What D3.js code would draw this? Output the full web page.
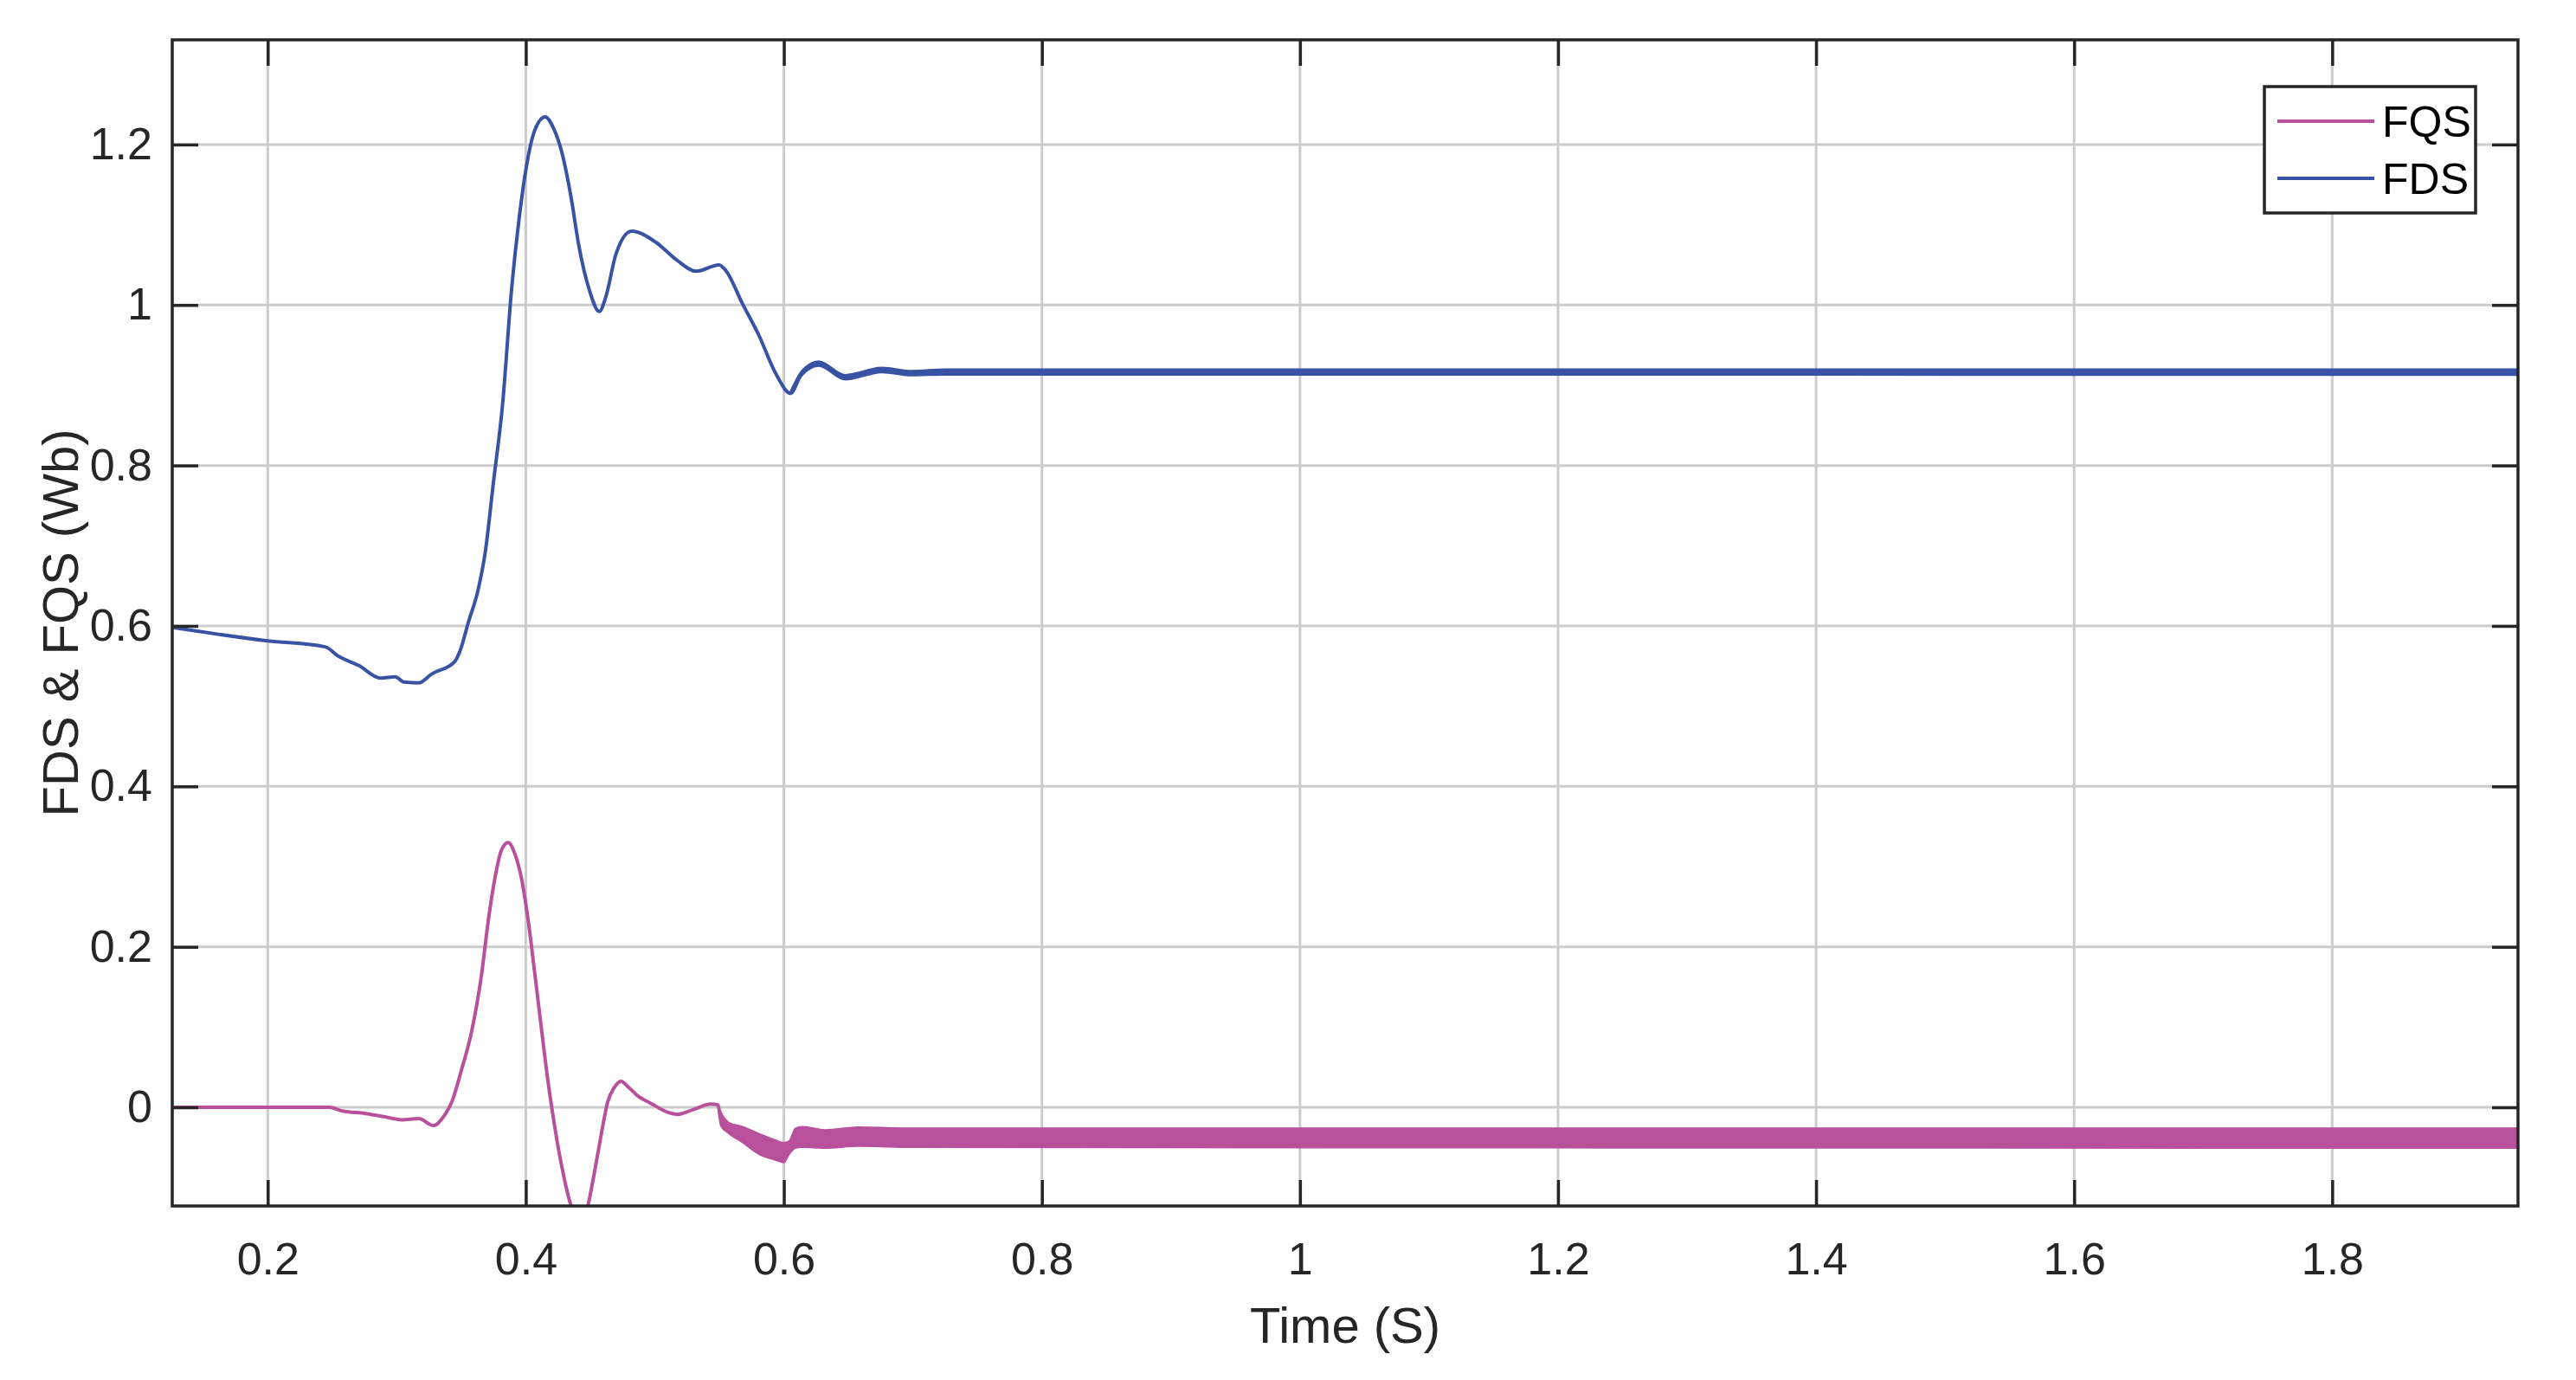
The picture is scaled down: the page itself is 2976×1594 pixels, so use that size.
<!DOCTYPE html>
<html>
<head>
<meta charset="utf-8">
<script src="https://cdn.jsdelivr.net/npm/d3@7"></script>
<style>
  body { margin: 0; background: #fff; }
  text { font-family: Arial, 'Liberation Sans', Helvetica, sans-serif; fill: #262626; }
</style>
</head>
<body>
<svg width="2976" height="1594"></svg>
<script>
// time axis (s) and flux values (Wb)
const fdsTime = [0.126, 0.2, 0.245, 0.254, 0.2707, 0.2874, 0.299, 0.3054, 0.317, 0.327, 0.345, 0.349,
  0.3555, 0.3632, 0.3684, 0.375, 0.382, 0.389, 0.395, 0.4, 0.407, 0.415, 0.421, 0.428, 0.435, 0.441,
  0.449, 0.457, 0.462, 0.47, 0.482, 0.501, 0.517, 0.532, 0.5498, 0.555, 0.5678, 0.5807, 0.5936,
  0.6051, 0.614, 0.627, 0.6476, 0.676, 0.699, 0.725, 1.944];
const fdsValue = [0.598, 0.5814, 0.5737, 0.563, 0.5505, 0.535, 0.5366, 0.53, 0.529, 0.54, 0.5557, 0.5686,
  0.6046, 0.646, 0.69, 0.78, 0.876, 1.02, 1.11, 1.168, 1.218, 1.2345, 1.222, 1.19, 1.135, 1.075,
  1.02, 0.992, 1.01, 1.064, 1.092, 1.078, 1.056, 1.042, 1.05, 1.043, 1.002, 0.962, 0.915,
  0.89, 0.915, 0.927, 0.91, 0.919, 0.915, 0.917, 0.916];

const fqsTime = [0.126, 0.2476, 0.2578, 0.2758, 0.2887, 0.3041, 0.317, 0.3285, 0.3375, 0.3427, 0.3504,
  0.358, 0.3658, 0.371, 0.376, 0.3812, 0.3864, 0.3915, 0.3967, 0.4018, 0.407, 0.412, 0.4172, 0.4224,
  0.4275, 0.434, 0.4425, 0.448, 0.4532, 0.4584, 0.4635, 0.4686, 0.4738, 0.479, 0.4866, 0.4969, 0.5098,
  0.5175, 0.5303, 0.5432, 0.549, 0.551, 0.5575, 0.568, 0.581, 0.594, 0.6, 0.604, 0.609, 0.614, 0.632,
  0.658, 0.7, 1.944];
const fqsValue = [0, 0, -0.0046, -0.0077, -0.0113, -0.0155, -0.014, -0.0227, -0.0088, 0.0067, 0.048,
  0.0943, 0.1665, 0.2335, 0.285, 0.321, 0.33, 0.316, 0.285, 0.2335, 0.1665, 0.0995, 0.0325, -0.024,
  -0.0706, -0.117, -0.15, -0.124, -0.081, -0.0345, 0.0067, 0.0247, 0.0325, 0.026, 0.0144, 0.005, -0.006,
  -0.0088, -0.0026, 0.004, 0.003, -0.014, -0.026, -0.034, -0.046, -0.0535, -0.0565, -0.05, -0.0385,
  -0.037, -0.0395, -0.0365, -0.038, -0.0385];

// ripple envelope (upper / lower edge of the oscillation band)
const fqsBandTime = [0.549, 0.551, 0.5575, 0.568, 0.581, 0.594, 0.6, 0.604, 0.609, 0.614, 0.632, 0.658, 0.7, 1.944];
const fqsBandHigh = [0.003, -0.005, -0.019, -0.024, -0.033, -0.041, -0.044, -0.042, -0.026, -0.024, -0.028, -0.0245, -0.026, -0.026];
const fqsBandLow = [0.003, -0.023, -0.033, -0.044, -0.059, -0.066, -0.069, -0.059, -0.051, -0.05, -0.051, -0.0486, -0.05, -0.051];

const fdsBandTime = [0.6051, 0.614, 0.627, 0.6476, 0.676, 0.699, 0.725, 1.944];
const fdsBandHigh = [0.892, 0.918, 0.930, 0.913, 0.922, 0.918, 0.920, 0.920];
const fdsBandLow = [0.888, 0.912, 0.924, 0.907, 0.916, 0.912, 0.913, 0.9125];

const xTicks = [0.2, 0.4, 0.6, 0.8, 1, 1.2, 1.4, 1.6, 1.8];
const yTicks = [0, 0.2, 0.4, 0.6, 0.8, 1, 1.2];
const seriesNames = ['FQS', 'FDS'];
const seriesColors = ['#b9509c', '#3953a4'];

const svg = d3.select('svg');
const mLeft = 199, mRight = 2909, mTop = 46, mBottom = 1393;

const x = d3.scaleLinear().domain([0.126, 1.944]).range([mLeft, mRight]);
const y = d3.scaleLinear().domain([-0.123, 1.3305]).range([mBottom, mTop]);

svg.append('rect').attr('width', 2976).attr('height', 1594).attr('fill', '#fff');

svg.append('clipPath').attr('id', 'plot')
  .append('rect')
  .attr('x', mLeft).attr('y', mTop)
  .attr('width', mRight - mLeft).attr('height', mBottom - mTop);

// grid
const grid = svg.append('g').attr('stroke', '#cccccc').attr('stroke-width', 3);
grid.selectAll('.gx').data(xTicks).enter().append('line')
  .attr('x1', d => x(d)).attr('x2', d => x(d))
  .attr('y1', mTop).attr('y2', mBottom);
grid.selectAll('.gy').data(yTicks).enter().append('line')
  .attr('x1', mLeft).attr('x2', mRight)
  .attr('y1', d => y(d)).attr('y2', d => y(d));

const plot = svg.append('g').attr('clip-path', 'url(#plot)');

const line = d3.line()
  .x(d => x(d[0]))
  .y(d => y(d[1]))
  .curve(d3.curveMonotoneX);

const band = d3.area()
  .x(d => x(d[0]))
  .y0(d => y(d[1]))
  .y1(d => y(d[2]))
  .curve(d3.curveMonotoneX);

// FQS
plot.append('path')
  .datum(d3.zip(fqsTime, fqsValue))
  .attr('d', line)
  .attr('fill', 'none')
  .attr('stroke', seriesColors[0])
  .attr('stroke-width', 4);
plot.append('path')
  .datum(d3.zip(fqsBandTime, fqsBandLow, fqsBandHigh))
  .attr('d', band)
  .attr('fill', seriesColors[0])
  .attr('stroke', seriesColors[0])
  .attr('stroke-width', 1.5);

// FDS
plot.append('path')
  .datum(d3.zip(fdsTime, fdsValue))
  .attr('d', line)
  .attr('fill', 'none')
  .attr('stroke', seriesColors[1])
  .attr('stroke-width', 4);
plot.append('path')
  .datum(d3.zip(fdsBandTime, fdsBandLow, fdsBandHigh))
  .attr('d', band)
  .attr('fill', seriesColors[1])
  .attr('stroke', seriesColors[1])
  .attr('stroke-width', 2);

// axes (box with inward ticks on all sides)
const fmt = d => String(+d.toFixed(1));
const tickLen = 30;

svg.append('g')
  .attr('transform', `translate(0,${mBottom})`)
  .call(d3.axisBottom(x).tickValues(xTicks).tickFormat(fmt).tickSizeInner(-tickLen).tickSizeOuter(0).tickPadding(42))
  .call(g => g.selectAll('text').attr('font-size', 52).attr('fill', '#262626').attr('font-family', null));
svg.append('g')
  .attr('transform', `translate(0,${mTop})`)
  .call(d3.axisTop(x).tickValues(xTicks).tickFormat('').tickSizeInner(-tickLen).tickSizeOuter(0));
svg.append('g')
  .attr('transform', `translate(${mLeft},0)`)
  .call(d3.axisLeft(y).tickValues(yTicks).tickFormat(fmt).tickSizeInner(-tickLen).tickSizeOuter(0).tickPadding(23))
  .call(g => g.selectAll('text').attr('font-size', 52).attr('fill', '#262626').attr('font-family', null));
svg.append('g')
  .attr('transform', `translate(${mRight},0)`)
  .call(d3.axisRight(y).tickValues(yTicks).tickFormat('').tickSizeInner(-tickLen).tickSizeOuter(0));

svg.selectAll('.domain').remove();
svg.selectAll('.tick line').attr('stroke', '#262626').attr('stroke-width', 3.5);

svg.append('rect')
  .attr('x', mLeft).attr('y', mTop)
  .attr('width', mRight - mLeft).attr('height', mBottom - mTop)
  .attr('fill', 'none')
  .attr('stroke', '#262626')
  .attr('stroke-width', 3.5);

// axis titles
svg.append('text')
  .attr('x', (mLeft + mRight) / 2)
  .attr('y', 1551)
  .attr('text-anchor', 'middle')
  .attr('font-size', 58)
  .text('Time (S)');

svg.append('text')
  .attr('transform', `translate(90,${(mTop + mBottom) / 2}) rotate(-90)`)
  .attr('text-anchor', 'middle')
  .attr('font-size', 58)
  .text('FDS & FQS (Wb)');

// legend
const legend = svg.append('g');
legend.append('rect')
  .attr('x', 2616).attr('y', 100)
  .attr('width', 244).attr('height', 146)
  .attr('fill', '#fff')
  .attr('stroke', '#262626')
  .attr('stroke-width', 3.5);
const items = legend.selectAll('.item')
  .data(seriesNames)
  .enter().append('g')
  .attr('transform', (d, i) => `translate(2631,${140 + i * 66})`);
items.append('line')
  .attr('x1', 0).attr('x2', 112)
  .attr('stroke', (d, i) => seriesColors[i])
  .attr('stroke-width', 4);
items.append('text')
  .attr('x', 121)
  .attr('y', 18)
  .attr('font-size', 50)
  .style('fill', '#000')
  .text(d => d);
</script>
</body>
</html>
